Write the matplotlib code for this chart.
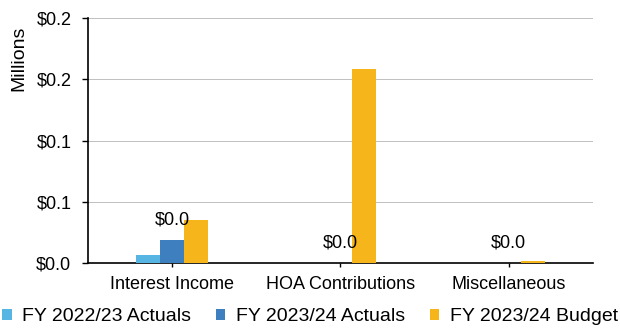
import matplotlib
matplotlib.use("Agg")
from matplotlib import pyplot as plt
import numpy as np

plt.rcParams['font.family'] = ['Liberation Sans', 'DejaVu Sans']

# data (millions)
categories = ['Interest Income', 'HOA Contributions', 'Miscellaneous']
series_names = ['FY 2022/23 Actuals', 'FY 2023/24 Actuals', 'FY 2023/24 Budget']
actuals_2223 = [0.0065, 0.0, 0.0]
actuals_2324 = [0.019, 0.0, 0.0]
budget_2324 = [0.035, 0.158, 0.0016]
ytick_values = [0.0, 0.05, 0.10, 0.15, 0.20]
ytick_labels = ['$0.0', '$0.1', '$0.1', '$0.2', '$0.2']

colors = ['#57B5E4', '#3E7FC0', '#F5B51B']

fig = plt.figure(figsize=(6.2, 3.28), dpi=100)
ax = fig.add_axes([0.142, 0.198, 0.814, 0.747])

x = np.arange(len(categories))
width = 0.143
all_series = [actuals_2223, actuals_2324, budget_2324]
for i, vals in enumerate(all_series):
    ax.bar(x + (i - 1) * width, vals, width, color=colors[i], label=series_names[i], zorder=3)

# data labels for FY 2023/24 actuals
for xi, v in zip(x, actuals_2324):
    ax.annotate(f'${v:.1f}', (xi, v), textcoords='offset points', xytext=(0, 8),
                ha='center', va='bottom', fontsize=13)

ax.set_xlim(-0.5, 2.5)
ax.set_ylim(0, 0.2)
ax.set_yticks(ytick_values)
ax.set_yticklabels(ytick_labels, fontsize=13)
ax.set_xticks(x)
ax.set_xticklabels(categories, fontsize=13)
ax.tick_params(axis='y', length=4, width=1, pad=8)
ax.tick_params(axis='x', length=3, width=1, pad=6)
ax.grid(axis='y', color='#c0c0c0', linewidth=0.7, zorder=0)
ax.spines['top'].set_visible(False)
ax.spines['right'].set_visible(False)
ax.spines['left'].set_linewidth(1.2)
ax.spines['bottom'].set_linewidth(1.2)

fig.text(0.03, 1 - 58 / 328, 'Millions', rotation=90, ha='center', va='center', fontsize=14)

fig.legend(loc='lower center', bbox_to_anchor=(0.5, -0.045), ncol=3, frameon=False,
           fontsize=14, handlelength=0.5, handleheight=0.5, handletextpad=0.55,
           columnspacing=1.25)

fig.savefig('out.png', dpi=100)
